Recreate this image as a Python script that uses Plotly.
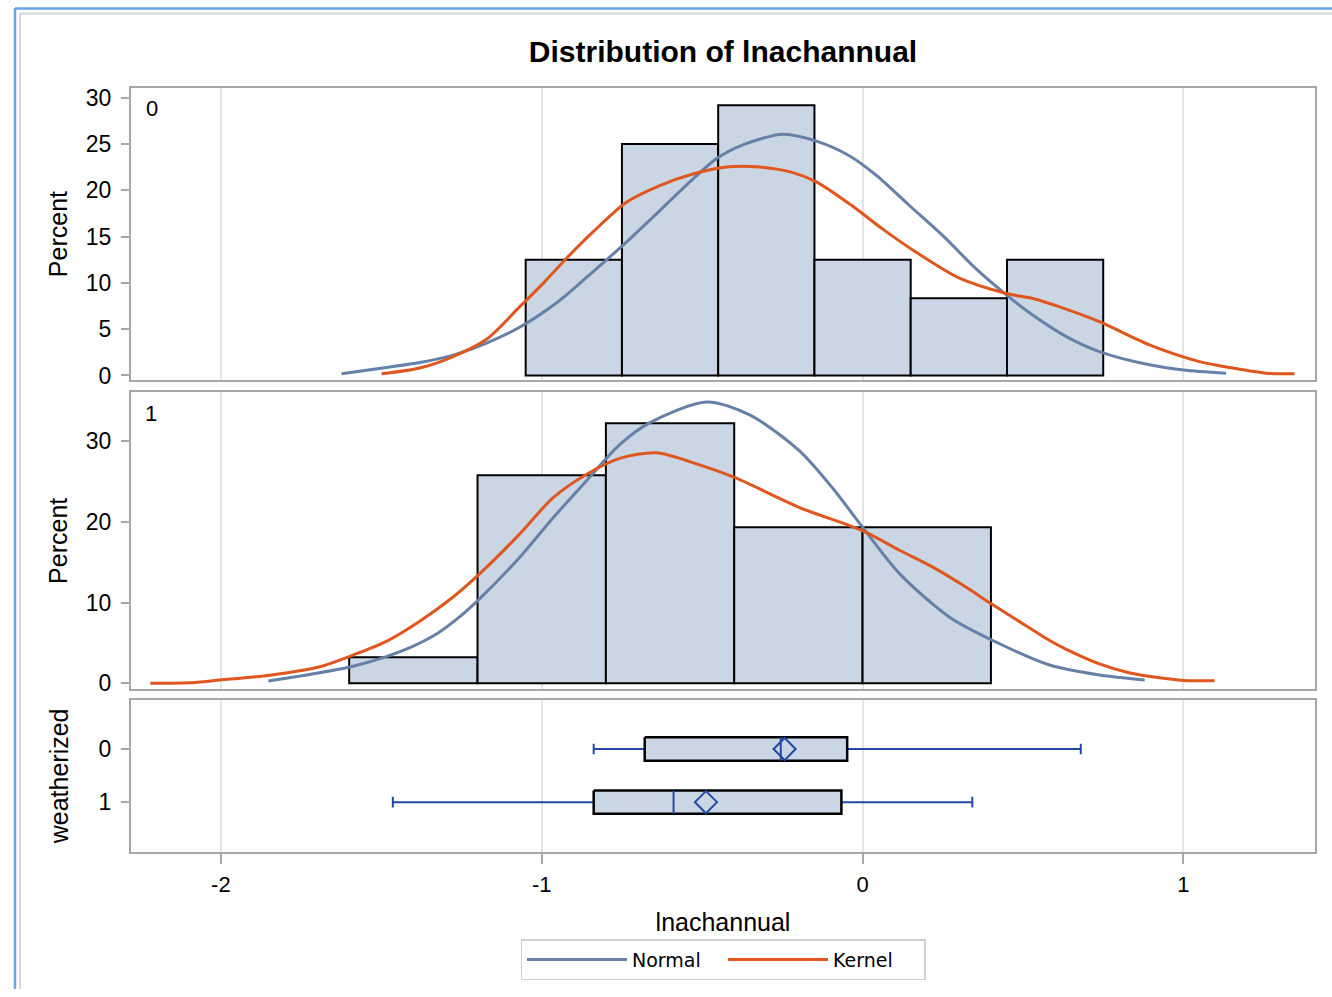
import plotly.graph_objects as go

# ---------------- data ----------------
# Histogram, weatherized = 0 (bin midpoints, bin width 0.3)
h0_mid = [-0.9, -0.6, -0.3, 0.0, 0.3, 0.6]
h0_pct = [12.5, 25.0, 29.17, 12.5, 8.33, 12.5]
h0_width = 0.3
# Histogram, weatherized = 1 (bin midpoints, bin width 0.4)
h1_mid = [-1.4, -1.0, -0.6, -0.2, 0.2]
h1_pct = [3.23, 25.81, 32.26, 19.35, 19.35]
h1_width = 0.4

# Normal / Kernel density curves (percent scale)
n0_x = [-1.624, -1.484, -1.38, -1.276, -1.172, -1.069, -0.944, -0.840, -0.736, -0.632, -0.529, -0.456,
        -0.373, -0.248, -0.144, -0.040, 0.043, 0.146, 0.250, 0.354, 0.448, 0.531, 0.635, 0.738, 0.894,
        1.0, 1.133]
n0_y = [0.18, 0.86, 1.4, 2.2, 3.5, 5.2, 8.1, 11.2, 14.4, 17.8, 21.2, 23.4,
        24.9, 26.05, 25.3, 23.7, 21.6, 18.35, 15.1, 11.5, 8.7, 6.5, 4.2, 2.58, 1.15,
        0.6, 0.25]
k0_x = [-1.499, -1.38, -1.276, -1.172, -1.069, -0.994, -0.913, -0.84, -0.736, -0.632, -0.529, -0.425,
        -0.321, -0.217, -0.144, -0.04, 0.063, 0.167, 0.302, 0.448, 0.531, 0.614, 0.738, 0.894, 1.05,
        1.154, 1.258, 1.346]
k0_y = [0.18, 0.8, 2.04, 3.9, 7.4, 10.0, 13.0, 15.5, 18.7, 20.5, 21.75, 22.5,
        22.5, 21.9, 20.9, 18.5, 15.8, 13.3, 10.5, 8.85, 8.3, 7.4, 5.8, 3.3, 1.5,
        0.8, 0.25, 0.18]
n1_x = [-1.852, -1.692, -1.588, -1.484, -1.40, -1.328, -1.26, -1.193, -1.069, -0.965, -0.861, -0.757,
        -0.664, -0.487, -0.352, -0.196, -0.093, 0.001, 0.115, 0.271, 0.427, 0.583, 0.738, 0.879]
n1_y = [0.28, 1.3, 2.1, 3.3, 4.6, 6.1, 8.1, 10.5, 15.6, 20.5, 25.1, 29.6,
        32.3, 34.9, 33.3, 28.8, 24.2, 19.3, 13.6, 8.2, 4.9, 2.26, 1.02, 0.4]
k1_x = [-2.22, -2.10, -2.003, -1.847, -1.692, -1.588, -1.484, -1.38, -1.276, -1.193, -1.069, -0.965,
        -0.861, -0.757, -0.643, -0.508, -0.397, -0.196, 0.001, 0.115, 0.219, 0.323, 0.401, 0.479,
        0.583, 0.635, 0.738, 0.83, 0.92, 1.0, 1.097]
k1_y = [0.0, 0.05, 0.4, 1.0, 2.05, 3.5, 5.2, 7.7, 10.7, 13.6, 18.5, 23.0,
        25.9, 27.9, 28.6, 27.1, 25.5, 21.8, 18.9, 16.5, 14.4, 11.9, 9.85, 7.9,
        5.3, 4.2, 2.4, 1.3, 0.7, 0.35, 0.3]

# Box plot statistics by weatherized
groups = [0, 1]
whisk_lo = [-0.838, -1.464]
q1 = [-0.679, -0.838]
median = [-0.255, -0.589]
mean = [-0.243, -0.488]
q3 = [-0.048, -0.066]
whisk_hi = [0.680, 0.342]

x_ticks = [-2, -1, 0, 1]
x_tick_labels = ["-2", "-1", "0", "1"]

# ---------------- styles ----------------
FONT = "Liberation Sans"
BAR_FILL = "#cbd6e5"
NORMAL_C = "#6680a8"
KERNEL_C = "#e0561f"
BOX_BLUE = "#2248a6"
FRAME = "#a4a8ac"
GRID = "#e4e4e4"

W, H = 1332, 997
H_EFF = 990.0  # effective rendered paper height


def px_x(p):
    return p / W


def px_y(p):
    return 1 - p / H_EFF


fig = go.Figure()

# histograms
fig.add_trace(go.Bar(x=h0_mid, y=h0_pct, width=h0_width,
                     marker=dict(color=BAR_FILL, line=dict(color="black", width=2)),
                     showlegend=False, xaxis="x", yaxis="y"))
fig.add_trace(go.Bar(x=h1_mid, y=h1_pct, width=h1_width,
                     marker=dict(color=BAR_FILL, line=dict(color="black", width=2)),
                     showlegend=False, xaxis="x2", yaxis="y2"))

# curves
fig.add_trace(go.Scatter(x=n0_x, y=n0_y, mode="lines",
                         line=dict(color=NORMAL_C, width=3, shape="spline", smoothing=0.8),
                         name="Normal", legendrank=1, xaxis="x", yaxis="y"))
fig.add_trace(go.Scatter(x=k0_x, y=k0_y, mode="lines",
                         line=dict(color=KERNEL_C, width=3, shape="spline", smoothing=0.8),
                         name="Kernel", legendrank=2, xaxis="x", yaxis="y"))
fig.add_trace(go.Scatter(x=n1_x, y=n1_y, mode="lines",
                         line=dict(color=NORMAL_C, width=3, shape="spline", smoothing=0.8),
                         showlegend=False, xaxis="x2", yaxis="y2"))
fig.add_trace(go.Scatter(x=k1_x, y=k1_y, mode="lines",
                         line=dict(color=KERNEL_C, width=3, shape="spline", smoothing=0.8),
                         showlegend=False, xaxis="x2", yaxis="y2"))

# box plots (built from statistics)
half = 0.22
cap = 0.1
wx, wy, cx, cy, bx, by, mx, my = [], [], [], [], [], [], [], []
for g, lo, a, md, b, hi in zip(groups, whisk_lo, q1, median, q3, whisk_hi):
    wx += [lo, a, None, b, hi, None]
    wy += [g, g, None, g, g, None]
    cx += [lo, lo, None, hi, hi, None]
    cy += [g - cap, g + cap, None, g - cap, g + cap, None]
    bx += [a, b, b, a, a, None]
    by += [g - half, g - half, g + half, g + half, g - half, None]
    mx += [md, md, None]
    my += [g - half, g + half, None]

fig.add_trace(go.Scatter(x=wx, y=wy, mode="lines", line=dict(color=BOX_BLUE, width=2), showlegend=False,
                         xaxis="x3", yaxis="y3", hoverinfo="skip"))
fig.add_trace(go.Scatter(x=cx, y=cy, mode="lines", line=dict(color=BOX_BLUE, width=2), showlegend=False,
                         xaxis="x3", yaxis="y3", hoverinfo="skip"))
fig.add_trace(go.Scatter(x=bx, y=by, mode="lines", fill="toself", fillcolor=BAR_FILL,
                         line=dict(color="black", width=2.5), showlegend=False, xaxis="x3", yaxis="y3"))
fig.add_trace(go.Scatter(x=mx, y=my, mode="lines", line=dict(color=BOX_BLUE, width=2), showlegend=False,
                         xaxis="x3", yaxis="y3"))
fig.add_trace(go.Scatter(x=mean, y=groups, mode="markers",
                         marker=dict(symbol="diamond-open", size=17, color=BOX_BLUE,
                                     line=dict(width=2, color=BOX_BLUE)),
                         showlegend=False, xaxis="x3", yaxis="y3"))

xdom = [131 / W, 1315 / W]
xrange_ = [-2.28, 1.41]
common_x = dict(range=xrange_, domain=xdom, showgrid=True, gridcolor=GRID, gridwidth=1.5, zeroline=False,
                showline=True, mirror=True, linecolor=FRAME, linewidth=2, tickvals=x_ticks,
                ticktext=x_tick_labels)
fig.update_layout(
    xaxis=dict(**common_x, anchor="y", showticklabels=False, ticks=""),
    xaxis2=dict(**common_x, anchor="y2", showticklabels=False, ticks=""),
    xaxis3=dict(**common_x, anchor="y3", ticks="outside", ticklen=10, tickwidth=1.5, tickcolor=FRAME,
                tickfont=dict(size=22, color="black", family=FONT), ticklabelstandoff=2,
                title=dict(text="lnachannual", font=dict(size=25, color="black", family=FONT), standoff=18)),
)
common_y = dict(showgrid=False, zeroline=False, showline=True, mirror=True, linecolor=FRAME, linewidth=2,
                ticks="outside", ticklen=8, tickwidth=1.5, tickcolor=FRAME, ticklabelstandoff=5,
                tickfont=dict(size=23, color="black", family=FONT))
fig.update_layout(
    yaxis=dict(**common_y, domain=[px_y(379), px_y(85)], range=[-0.54, 31.07],
               tickvals=[0, 5, 10, 15, 20, 25, 30], anchor="x",
               title=dict(text="Percent", font=dict(size=25, color="black", family=FONT), standoff=11)),
    yaxis2=dict(**common_y, domain=[px_y(689), px_y(391)], range=[-0.74, 36.08], tickvals=[0, 10, 20, 30],
                anchor="x2",
                title=dict(text="Percent", font=dict(size=25, color="black", family=FONT), standoff=11)),
    yaxis3=dict(**common_y, domain=[px_y(852), px_y(700)], range=[1.93, -0.92], tickvals=groups,
                ticktext=[str(g) for g in groups], anchor="x3",
                title=dict(text="weatherized", font=dict(size=25, color="black", family=FONT), standoff=23)),
)

fig.update_layout(
    width=W, height=H,
    margin=dict(l=0, r=0, t=0, b=0),
    paper_bgcolor="white", plot_bgcolor="white",
    font=dict(family=FONT, color="black"),
    title=dict(text="Distribution of lnachannual", x=723 / W, y=px_y(51), xanchor="center", yanchor="middle",
               font=dict(size=30, color="black", family=FONT, weight="bold")),
    legend=dict(orientation="h", x=723 / W, xanchor="center", y=px_y(940), yanchor="top",
                bordercolor="#cfcfcf", borderwidth=1.5, font=dict(size=19, family="DejaVu Sans"),
                itemwidth=100, entrywidth=86, bgcolor="white"),
    barmode="overlay",
    annotations=[
        dict(text="0", x=px_x(152), y=px_y(106), xref="paper", yref="paper", showarrow=False,
             xanchor="center", yanchor="middle", font=dict(size=22, family=FONT, color="black")),
        dict(text="1", x=px_x(151), y=px_y(412), xref="paper", yref="paper", showarrow=False,
             xanchor="center", yanchor="middle", font=dict(size=22, family=FONT, color="black")),
    ],
    shapes=[
        dict(type="line", xref="paper", yref="paper", x0=px_x(15), x1=px_x(15), y0=px_y(5), y1=0,
             line=dict(color="#6aa3e6", width=2.5)),
        dict(type="line", xref="paper", yref="paper", x0=px_x(15), x1=1, y0=px_y(5.5), y1=px_y(5.5),
             line=dict(color="#6aa3e6", width=2.5)),
        dict(type="line", xref="paper", yref="paper", x0=px_x(20), x1=px_x(20), y0=px_y(10), y1=0,
             line=dict(color="#d6d6d6", width=2)),
        dict(type="line", xref="paper", yref="paper", x0=px_x(20), x1=1, y0=px_y(10.5), y1=px_y(10.5),
             line=dict(color="#d6d6d6", width=2)),
    ],
)

fig.write_html("out.html")
